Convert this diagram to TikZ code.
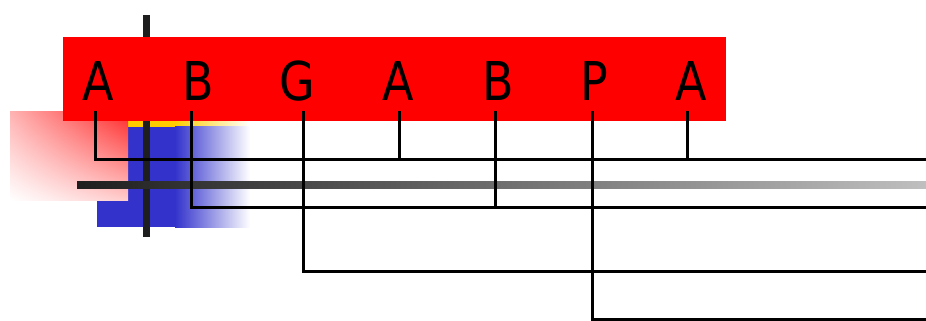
\documentclass[tikz,border=0pt]{standalone}
\usepackage{fontspec}
\usetikzlibrary{shadings}
\newfontfamily\letterfont[FakeStretch=0.86]{DejaVu Sans}
\definecolor{bluebox}{RGB}{51,51,204}
\definecolor{goldstrip}{RGB}{255,204,0}
\definecolor{darkbar}{RGB}{30,30,30}
\tikzset{
  letter/.style={anchor=base, inner sep=0pt, font=\letterfont\fontsize{53.5}{60}\selectfont},
  wire/.style={line width=3pt, black},
}
\begin{document}
\begin{tikzpicture}[x=1pt,y=-1pt]
\useasboundingbox (0,0) rectangle (926,321);
% yellow strip
\fill[goldstrip] (128,117) rectangle (175,127);
\shade[left color=goldstrip, right color=white] (175,117) rectangle (250,127);
% blue box
\fill[bluebox] (97,127) rectangle (175,227);
\shade[left color=bluebox, right color=white] (175,126) rectangle (250,227);
% red gradient box
\shade[upper right=red!85, upper left=red!30, lower right=red!20, lower left=white] (10,111) rectangle (128,200);
% dark vertical bar
\fill[darkbar] (143,15) rectangle (150,237);
% red banner
\node[fill=red, minimum width=663pt, minimum height=84pt, inner sep=0pt, anchor=north west] (banner) at (63,37) {};
% letters
\node[letter] (l1) at (98.5,100) {A};
\node[letter] (l2) at (198,100) {B};
\node[letter] (l3) at (297,100) {G};
\node[letter] (l4) at (398,100) {A};
\node[letter] (l5) at (498,100) {B};
\node[letter] (l6) at (594,100) {P};
\node[letter] (l7) at (691,100) {A};
% gray horizontal bar
\shade[left color=darkbar, right color=black!25] (77,181) rectangle (926,188);
% connector coordinates
\coordinate (t1) at (95,111);
\coordinate (t2) at (191,111);
\coordinate (t3) at (303,111);
\coordinate (t4) at (399,111);
\coordinate (t5) at (495,111);
\coordinate (t6) at (592,111);
\coordinate (t7) at (687,111);
\coordinate (eA) at (926,159);
\coordinate (eB) at (926,207);
\coordinate (eG) at (926,271);
\coordinate (eP) at (926,319);
% connectors
\draw[wire] (t1) |- (eA);
\draw[wire] (t4) -- (t4 |- eA);
\draw[wire] (t7) -- (t7 |- eA);
\draw[wire] (t2) |- (eB);
\draw[wire] (t5) -- (t5 |- eB);
\draw[wire] (t3) |- (eG);
\draw[wire] (t6) |- (eP);
\end{tikzpicture}
\end{document}
